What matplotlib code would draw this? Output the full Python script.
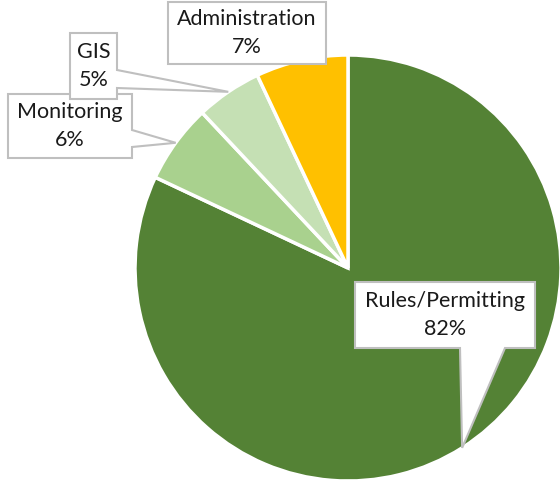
import numpy as np
import matplotlib
matplotlib.use("Agg")
import matplotlib.pyplot as plt
from matplotlib.patches import Polygon

labels = ["Rules/Permitting", "Monitoring", "GIS", "Administration"]
shares = [82, 6, 5, 7]
colors = ["#548235", "#A9D18E", "#C5E0B4", "#FFC000"]

W, H = 560, 484
fig = plt.figure(figsize=(W / 100, H / 100), dpi=100)
ax = fig.add_axes([0, 0, 1, 1])

cx, cy, r = 348, H - 268, 213
wedges, _ = ax.pie(shares, colors=colors, startangle=90, counterclock=False,
                   center=(cx, cy), radius=r, frame=True,
                   wedgeprops=dict(edgecolor="white", linewidth=2.5))
ax.set_xlim(0, W)
ax.set_ylim(0, H)
ax.set_aspect("equal")
ax.axis("off")

# callout layout in pixel coords (top-down): box x0, x1, y0, y1, side, pointer base
layout = {
    "Rules/Permitting": (355, 535, 282, 348, "bottom", (460, 505)),
    "Monitoring": (8, 132, 94, 158, "right", (130, 147)),
    "GIS": (70, 117, 33, 99, "right", (70, 88)),
    "Administration": (168, 326, 2, 64, None, None),
}

total = sum(shares)
start = 90.0
for lab, val, w in zip(labels, shares, wedges):
    ang = np.deg2rad(start - val / total * 360 / 2)
    start -= val / total * 360
    tx, ty = cx + r * np.cos(ang), cy + r * np.sin(ang)
    x0, x1, y0, y1, side, base = layout[lab]
    yt, yb = H - y0, H - y1
    if side == "bottom":
        pts = [(x0, yt), (x1, yt), (x1, yb), (base[1], yb), (tx, ty),
               (base[0], yb), (x0, yb)]
    elif side == "right":
        pts = [(x0, yt), (x1, yt), (x1, H - base[0]), (tx, ty),
               (x1, H - base[1]), (x1, yb), (x0, yb)]
    else:
        pts = [(x0, yt), (x1, yt), (x1, yb), (x0, yb)]
    ax.add_patch(Polygon(pts, closed=True, facecolor="white",
                         edgecolor="#BFBFBF", linewidth=1.5, zorder=5))
    ax.text((x0 + x1) / 2, (yt + yb) / 2, f"{lab}\n{val}%", ha="center",
            va="center", ma="center", fontsize=15.5, family="Lato",
            color="#1a1a1a", linespacing=1.5, zorder=6)

fig.savefig("out.png", dpi=100, facecolor="white")
